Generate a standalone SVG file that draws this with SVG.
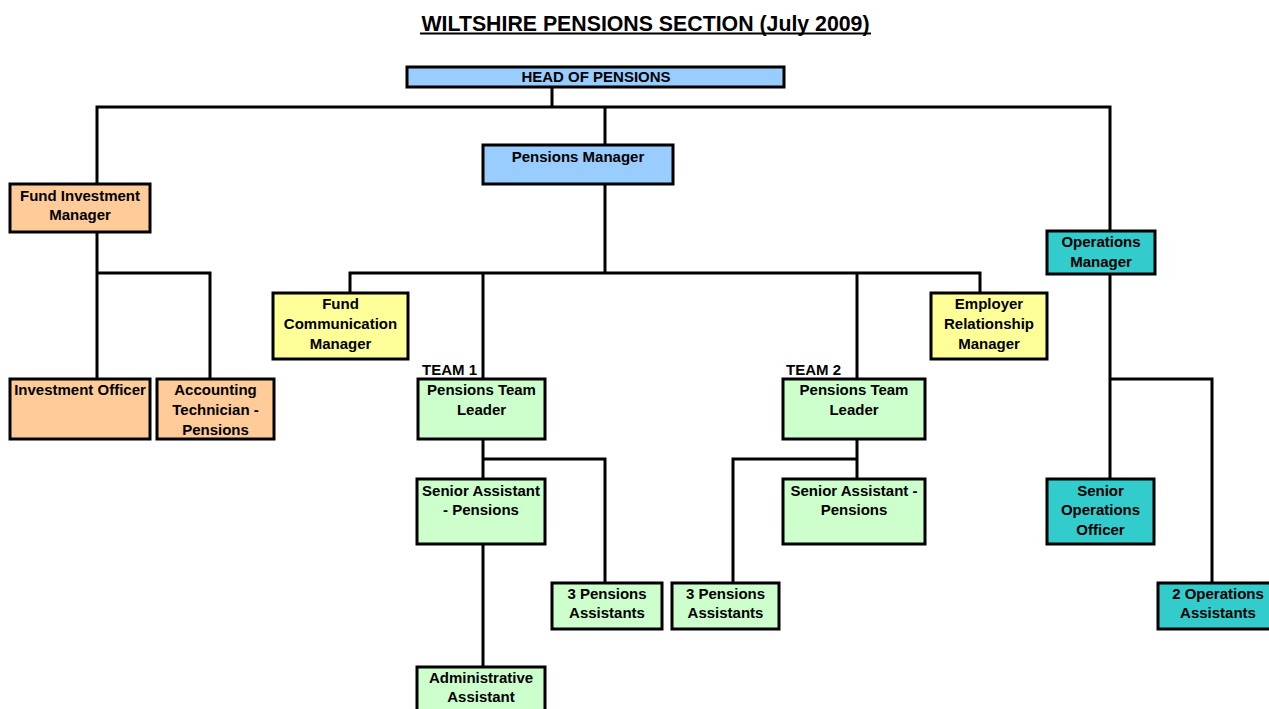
<svg xmlns="http://www.w3.org/2000/svg" width="1269" height="709" viewBox="0 0 1269 709">
<style>
.b{stroke:#000;stroke-width:3}
.o{fill:#FFCC99}.bl{fill:#99CCFF}.y{fill:#FFFF99}.g{fill:#CCFFCC}.t{fill:#33CCCC}
text{font-family:"Liberation Sans",Arial,sans-serif;font-weight:bold;font-size:15px;fill:#000;text-anchor:middle}
.c{stroke:#000;stroke-width:3;fill:none}
</style>
<rect width="1269" height="709" fill="#fff"/>
<g id="title"><text x="645.5" y="31" style="font-size:21.3px">WILTSHIRE PENSIONS SECTION (July 2009)</text><line x1="420" y1="33.5" x2="871" y2="33.5" stroke="#000" stroke-width="1.8"/></g>
<g id="connectors">
<polyline class="c" points="552,88 552,107"/>
<polyline class="c" points="97,184 97,107 1110,107 1110,231"/>
<polyline class="c" points="605,107 605,145"/>
<polyline class="c" points="605,184 605,273"/>
<polyline class="c" points="350,293 350,273 980,273 980,293"/>
<polyline class="c" points="483,273 483,379"/>
<polyline class="c" points="857,273 857,379"/>
<polyline class="c" points="97,232 97,379"/>
<polyline class="c" points="97,273 210,273 210,379"/>
<polyline class="c" points="483,439 483,479"/>
<polyline class="c" points="483,459 605,459 605,583"/>
<polyline class="c" points="483,544 483,667"/>
<polyline class="c" points="857,439 857,479"/>
<polyline class="c" points="857,459 733,459 733,583"/>
<polyline class="c" points="1110,274 1110,479"/>
<polyline class="c" points="1110,379 1212,379 1212,583"/>
</g>
<g id="head"><rect class="b bl" x="407" y="67" width="377" height="20"/><text x="596" y="82">HEAD OF PENSIONS</text></g>
<g id="pm"><rect class="b bl" x="483" y="145" width="190" height="39"/><text x="578" y="162">Pensions Manager</text></g>
<g id="fim"><rect class="b o" x="10" y="184" width="140" height="48"/><text x="80" y="201">Fund Investment</text><text x="80" y="220">Manager</text></g>
<g id="io"><rect class="b o" x="10" y="379" width="140" height="60"/><text x="80" y="395">Investment Officer</text></g>
<g id="at"><rect class="b o" x="157" y="379" width="117" height="60"/><text x="215.5" y="395">Accounting</text><text x="215.5" y="415">Technician -</text><text x="215.5" y="435">Pensions</text></g>
<g id="fcm"><rect class="b y" x="273" y="293" width="135" height="66"/><text x="340.5" y="309">Fund</text><text x="340.5" y="329">Communication</text><text x="340.5" y="349">Manager</text></g>
<g id="erm"><rect class="b y" x="931" y="293" width="116" height="66"/><text x="989" y="309">Employer</text><text x="989" y="329">Relationship</text><text x="989" y="349">Manager</text></g>
<g id="om"><rect class="b t" x="1047" y="231" width="108" height="43"/><text x="1101" y="247">Operations</text><text x="1101" y="267">Manager</text></g>
<g id="team1"><text x="422" y="375" style="text-anchor:start">TEAM 1</text><rect class="b g" x="418" y="379" width="127" height="60"/><text x="481.5" y="395">Pensions Team</text><text x="481.5" y="415">Leader</text></g>
<g id="team2"><text x="786" y="375" style="text-anchor:start">TEAM 2</text><rect class="b g" x="783" y="379" width="142" height="60"/><text x="854" y="395">Pensions Team</text><text x="854" y="415">Leader</text></g>
<g id="sa1"><rect class="b g" x="417" y="479" width="128" height="65"/><text x="481" y="496">Senior Assistant</text><text x="481" y="515">- Pensions</text></g>
<g id="sa2"><rect class="b g" x="783" y="479" width="142" height="65"/><text x="854" y="496">Senior Assistant -</text><text x="854" y="515">Pensions</text></g>
<g id="pa1"><rect class="b g" x="552" y="583" width="110" height="46"/><text x="607" y="599">3 Pensions</text><text x="607" y="618">Assistants</text></g>
<g id="pa2"><rect class="b g" x="672" y="583" width="107" height="46"/><text x="725.5" y="599">3 Pensions</text><text x="725.5" y="618">Assistants</text></g>
<g id="aa"><rect class="b g" x="417" y="667" width="128" height="50"/><text x="481" y="683">Administrative</text><text x="481" y="702">Assistant</text></g>
<g id="soo"><rect class="b t" x="1047" y="479" width="107" height="65"/><text x="1100.5" y="496">Senior</text><text x="1100.5" y="515">Operations</text><text x="1100.5" y="535">Officer</text></g>
<g id="oa"><rect class="b t" x="1158" y="583" width="120" height="46"/><text x="1218" y="599">2 Operations</text><text x="1218" y="618">Assistants</text></g>
</svg>
